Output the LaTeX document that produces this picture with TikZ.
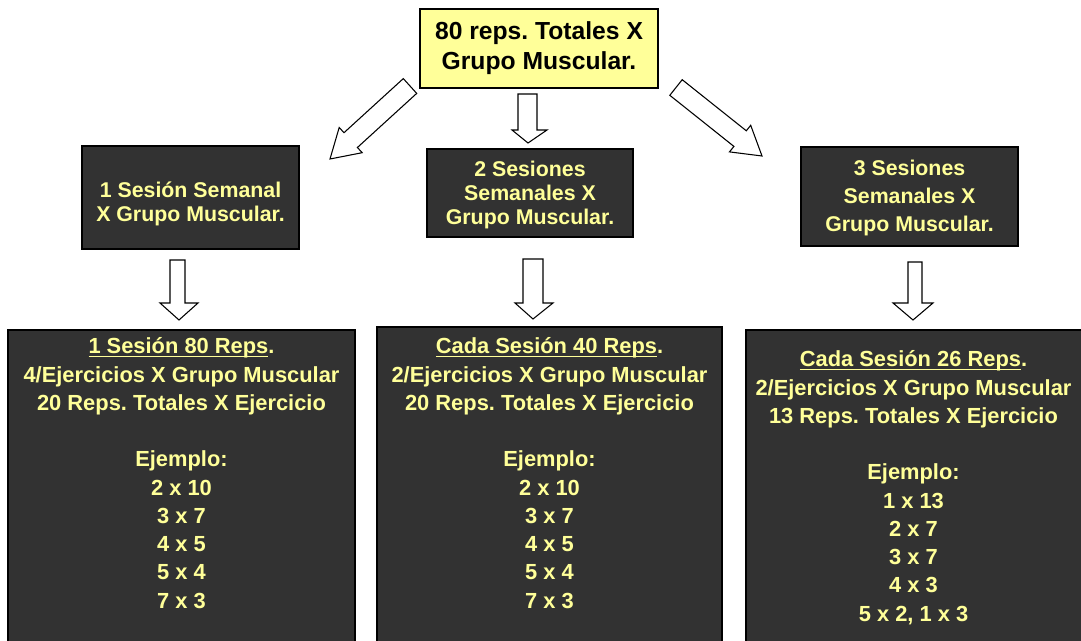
\documentclass[tikz,border=0pt]{standalone}
\usepackage{fontspec}
\setmainfont{Liberation Sans}
\definecolor{darkfill}{HTML}{323232}
\definecolor{ylw}{HTML}{FFFF99}
\newcommand\myul[1]{\setbox0\hbox{#1}\rlap{\rule[-2.6pt]{\wd0}{0.9pt}}\box0}
\begin{document}
\begin{tikzpicture}[x=0.75pt,y=-0.75pt,
  topbox/.style={draw=black, line width=1.1pt, fill=ylw, text=black, inner sep=0pt,
    align=center, font=\fontsize{18.5}{22.5}\selectfont\bfseries\frenchspacing},
  midbox/.style={draw=black, line width=1pt, fill=darkfill, inner sep=0pt},
  midtext/.style={text=ylw, inner sep=0pt, align=center},
  lowbox/.style={draw=black, line width=1pt, fill=darkfill, inner sep=0pt},
  lowtext/.style={text=ylw, inner sep=0pt, anchor=north, align=center,
    font=\fontsize{16.4}{21.2}\selectfont\bfseries\frenchspacing},
  blockarr/.style={draw=black, fill=white, line width=0.8pt, line join=miter}]
\useasboundingbox (0,0) rectangle (1081,641);
\clip (0,0) rectangle (1081,641);
\fill[white] (0,0) rectangle (1081,641);

% top box
\node[topbox, minimum width=178.5pt, minimum height=59.25pt] (top) at (539,48.5)
  {80 reps. Totales X\\Grupo Muscular.};

% middle row boxes
\node[midbox, minimum width=162.75pt, minimum height=77.25pt] (m1) at (190.5,197.5) {};
\node[midtext, font=\fontsize{16}{18}\selectfont\bfseries\frenchspacing]
  (m1t) at (190.5,204) {1 Sesión Semanal\\X Grupo Muscular.};
\node[midbox, minimum width=154.5pt, minimum height=66pt] (m2) at (530,193) {};
\node[midtext, font=\fontsize{16}{18}\selectfont\bfseries\frenchspacing]
  (m2t) at (530,195) {2 Sesiones\\Semanales X\\Grupo Muscular.};
\node[midbox, minimum width=162.75pt, minimum height=74.25pt] (m3) at (909.5,196.5) {};
\node[midtext, font=\fontsize{16}{21}\selectfont\bfseries\frenchspacing]
  (m3t) at (909.5,197.5) {3 Sesiones\\Semanales X\\Grupo Muscular.};

% bottom boxes
\node[lowbox, minimum width=260.25pt, minimum height=247.5pt] (b1) at (181.5,495) {};
\node[lowbox, minimum width=258.75pt, minimum height=249.75pt] (b2) at (549.5,493.5) {};
\node[lowbox, minimum width=258.75pt, minimum height=247.5pt] (b3) at (918.5,495) {};

\node[lowtext] (b1t) at (181.5,337.5)
  {\myul{1 Sesión 80 Reps}.\\4/Ejercicios X Grupo Muscular\\20 Reps. Totales X Ejercicio\\[21.2pt]
   Ejemplo:\\2 x 10\\3 x 7\\4 x 5\\5 x 4\\7 x 3};
\node[lowtext] (b2t) at (549.5,337.5)
  {\myul{Cada Sesión 40 Reps}.\\2/Ejercicios X Grupo Muscular\\20 Reps. Totales X Ejercicio\\[21.2pt]
   Ejemplo:\\2 x 10\\3 x 7\\4 x 5\\5 x 4\\7 x 3};
\node[lowtext] (b3t) at (913.5,350.5)
  {\myul{Cada Sesión 26 Reps}.\\2/Ejercicios X Grupo Muscular\\13 Reps. Totales X Ejercicio\\[21.2pt]
   Ejemplo:\\1 x 13\\2 x 7\\3 x 7\\4 x 3\\5 x 2, 1 x 3};

% block arrows from top box
\draw[blockarr] (518,94) -- (537,94) -- (537,130) -- (547,130) -- (528,143)
  -- (512,130) -- (518,130) -- cycle;
\draw[blockarr] (330,159) -- (339.2,127.5) -- (344,132.7) -- (403.3,78.6)
  -- (416.7,93.4) -- (357.4,147.5) -- (362.2,152.7) -- cycle;
\draw[blockarr] (762,156) -- (750.7,125.3) -- (746.3,130.8) -- (682.2,79.7)
  -- (669.8,95.3) -- (733.9,146.4) -- (729.5,151.9) -- cycle;

% block arrows to bottom boxes
\draw[blockarr] (170,260) -- (185,260) -- (185,303) -- (198,303) -- (179,320)
  -- (160,303) -- (170,303) -- cycle;
\draw[blockarr] (523,259) -- (543,259) -- (543,303) -- (553,303) -- (533,319)
  -- (515,303) -- (523,303) -- cycle;
\draw[blockarr] (908,262) -- (922,262) -- (922,303) -- (933,303) -- (913,320)
  -- (893,303) -- (908,303) -- cycle;
\end{tikzpicture}
\end{document}
